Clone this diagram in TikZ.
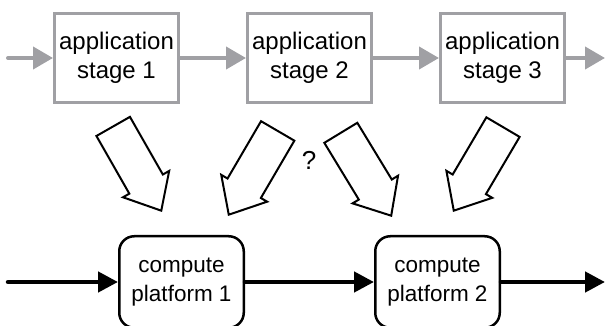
\documentclass[tikz,border=0pt]{standalone}
\usepackage{fontspec}
\setmainfont{Liberation Sans}
\usetikzlibrary{positioning,shapes.arrows,arrows.meta}
\definecolor{stagegray}{RGB}{160,160,164}

\begin{document}
\begin{tikzpicture}[x=1pt,y=1pt,node distance=66pt,
  stagebox/.style={draw=stagegray,line width=3pt,minimum width=124pt,minimum height=89pt,
    align=center,font=\fontsize{24}{29}\selectfont},
  platbox/.style={draw,line width=2.5pt,rounded corners=15pt,minimum width=124.5pt,minimum height=91.5pt,
    align=center,font=\fontsize{22.5}{29}\selectfont},
  flow/.style={draw=stagegray,line width=4pt,line cap=round,-{Triangle[length=20pt,width=22pt,fill=stagegray]}},
  dataflow/.style={draw=black,line width=4.5pt,line cap=round,-{Triangle[length=20pt,width=20pt]}},
  maparrow/.style={draw,line width=2pt,single arrow,minimum height=97pt,text height=0pt,text depth=0pt,
    inner xsep=0pt,inner ysep=18.3pt,single arrow head extend=7.3pt,single arrow tip angle=82,anchor=tip}]
  \useasboundingbox (0,0) rectangle (605,326);
  \node (a1) [stagebox] at (116.5,268) {application\\stage 1};
  \node (a2) [stagebox,right=of a1] {application\\stage 2};
  \node (a3) [stagebox,right=of a2] {application\\stage 3};
  \node (c1) [platbox] at (181.5,44) {compute\\platform 1};
  \node (c2) [platbox,right=129pt of c1] {compute\\platform 2};
  \coordinate (ain) at (8,268);
  \coordinate (aout) at (605,268);
  \coordinate (cin) at (8,44);
  \coordinate (cout) at (605,44);
  \draw[flow] (ain) -- (a1);
  \draw[flow] (a1) -- (a2);
  \draw[flow] (a2) -- (a3);
  \draw[flow] (a3) -- (aout);
  \draw[dataflow] (cin) -- (c1);
  \draw[dataflow] (c1) -- (c2);
  \draw[dataflow] (c2) -- (cout);
  \node (m1) [maparrow,rotate=-60.3] at (162,114) {};
  \node (m2) [maparrow,rotate=-120.3] at (228,110) {};
  \node (m3) [maparrow,rotate=-58.7] at (392,109) {};
  \node (m4) [maparrow,rotate=-120.5] at (453,114) {};
  \node (q) [font=\fontsize{26}{29}\selectfont] at (309,166) {?};
\end{tikzpicture}
\end{document}
